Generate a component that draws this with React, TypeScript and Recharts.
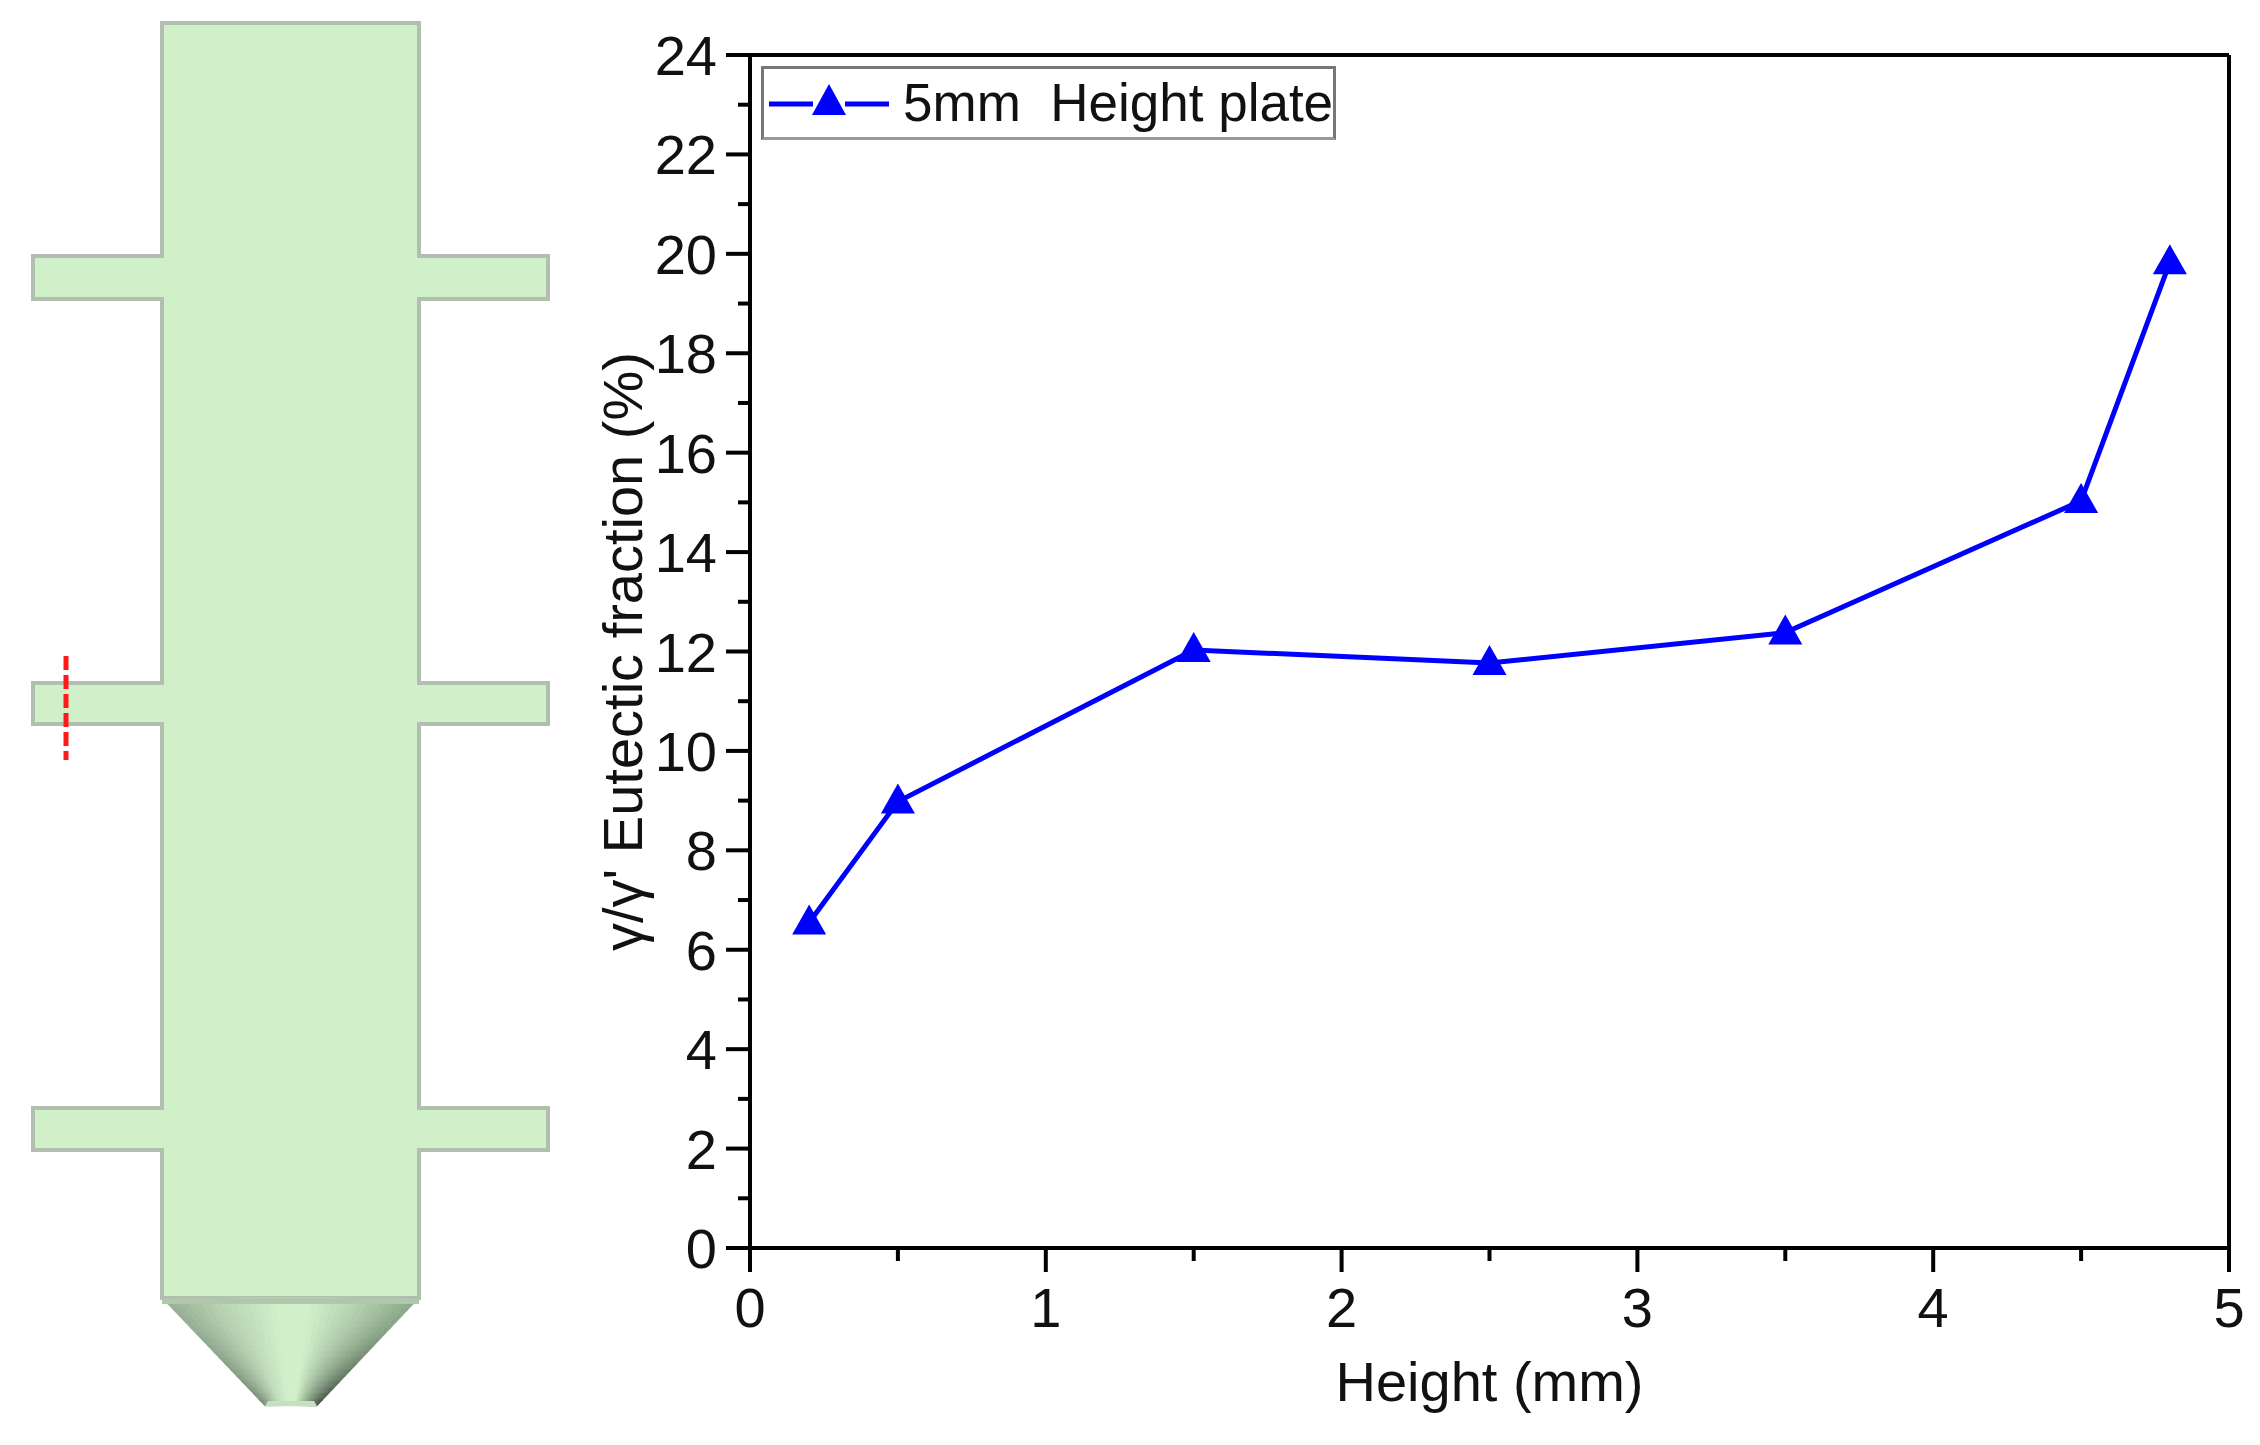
import React from "react";
import { ComposedChart, Line, XAxis, YAxis, Legend } from "recharts";

const heights = [0.2, 0.5, 1.5, 2.5, 3.5, 4.5, 4.8];
const eutectic = [6.55, 8.98, 12.03, 11.77, 12.38, 15.03, 19.83];
const xTicks = [0, 0.5, 1, 1.5, 2, 2.5, 3, 3.5, 4, 4.5, 5];
const yTicks = [0, 1, 2, 3, 4, 5, 6, 7, 8, 9, 10, 11, 12, 13, 14, 15, 16, 17, 18, 19, 20, 21, 22, 23, 24];
const seriesName = "5mm  Height plate";
const xTitle = "Height (mm)";
const yTitle = "γ/γ' Eutectic fraction (%)";

const rows = heights.map((h, i) => ({ h, v: eutectic[i] }));

const FONT = "'Liberation Sans', Arial, sans-serif";
const BLUE = "#0000ff";

const Triangle = (p: any) => {
  const { cx, cy } = p;
  if (cx == null || cy == null) return null;
  return <polygon key={`t${cx}`} points={`${cx},${cy - 18} ${cx + 17},${cy + 12} ${cx - 17},${cy + 12}`} fill={BLUE} />;
};

const XTick = (p: any) => {
  const { x, y, payload } = p;
  const major = Number.isInteger(payload.value);
  return (
    <g>
      <line x1={x} x2={x} y1={y} y2={y + (major ? 24 : 13)} stroke="#000" strokeWidth={4} />
      {major && (
        <text x={x} y={y + 79} textAnchor="middle" fontFamily={FONT} fontSize={56} fill="#111">
          {payload.value}
        </text>
      )}
    </g>
  );
};

const YTick = (p: any) => {
  const { x, y, payload } = p;
  const major = payload.value % 2 === 0;
  return (
    <g>
      <line x1={x} x2={x - (major ? 24 : 12)} y1={y} y2={y} stroke="#000" strokeWidth={4} />
      {major && (
        <text x={x - 33} y={y + 20} textAnchor="end" fontFamily={FONT} fontSize={56} fill="#111">
          {payload.value}
        </text>
      )}
    </g>
  );
};

const LegendBox = (p: any) => {
  const item = p.payload?.[0];
  return (
    <div style={{ width: 575, height: 74, boxSizing: "border-box", border: "3px solid #777", borderBottomColor: "#999", background: "#fff", position: "relative" }}>
      <svg width={130} height={60} style={{ position: "absolute", left: 5, top: 5 }}>
        <line x1={0} x2={120} y1={30} y2={30} stroke={BLUE} strokeWidth={5} />
        <rect x={44} y={8} width={32} height={40} fill="#fff" />
        <polygon points="60,10 77,41 43,41" fill={BLUE} />
      </svg>
      <span style={{ position: "absolute", left: 139, top: 4, fontFamily: FONT, fontSize: 53, lineHeight: "60px", color: "#111", whiteSpace: "pre" }}>
        {item?.value}
      </span>
    </div>
  );
};

const coneStops = [
  [0, [150, 175, 148]],
  [0.2, [182, 208, 176]],
  [0.45, [208, 240, 202]],
  [0.58, [208, 240, 202]],
  [0.8, [176, 204, 172]],
  [1, [140, 168, 138]],
] as const;

const coneColor = (t: number, v: number) => {
  let col: number[] = [140, 168, 138];
  for (let i = 1; i < coneStops.length; i++) {
    const [t0, c0] = coneStops[i - 1];
    const [t1, c1] = coneStops[i];
    if (t <= t1) {
      const f = (t - t0) / (t1 - t0);
      col = c0.map((c, k) => c + (c1[k] - c) * f);
      break;
    }
  }
  const dark = (t > 0.58 ? ((t - 0.58) / 0.42) * 0.55 : t < 0.3 ? ((0.3 - t) / 0.3) * 0.25 : 0) * v * v;
  return `rgb(${col.map((c) => Math.round(c * (1 - dark))).join(",")})`;
};

const coneCols = Array.from({ length: 36 }, (_, i) => i);
const coneRows = Array.from({ length: 18 }, (_, i) => i);

const Schematic = () => (
  <svg width={600} height={1445} style={{ position: "absolute", left: 0, top: 0 }}>
    <path
      d="M162 23 H419 V256 H548 V299 H419 V683 H548 V724 H419 V1108 H548 V1150 H419 V1298 H162 V1150 H33 V1108 H162 V724 H33 V683 H162 V299 H33 V256 H162 Z"
      fill="#d0f0ca"
      stroke="#b2bfb0"
      strokeWidth={4}
    />
    {coneRows.map((r) =>
      coneCols.map((i) => {
        const a = i / 36;
        const b = (i + 1) / 36;
        const v0 = r / 18;
        const v1 = (r + 1) / 18;
        const xAt = (t: number, v: number) => 162 + 103 * v + (257 - 205 * v) * t;
        const yAt = (v: number) => 1298 + 108 * v;
        const pts = [
          `${xAt(a, v0)},${yAt(v0)}`,
          `${xAt(b, v0)},${yAt(v0)}`,
          `${xAt(b, v1)},${yAt(v1)}`,
          `${xAt(a, v1)},${yAt(v1)}`,
        ].join(" ");
        const col = coneColor((a + b) / 2, (v0 + v1) / 2);
        return <polygon key={`${r}-${i}`} points={pts} fill={col} stroke={col} strokeWidth={0.6} />;
      })
    )}
    <polygon points="268,1401 314,1401 317,1406 265,1406" fill="#c4e0bf" />
    <rect x={162} y={1298} width={257} height={6} fill="#afc7ab" />
    <line x1={66} x2={66} y1={656} y2={760} stroke="#ff1a1a" strokeWidth={5} strokeDasharray="14 5" />
  </svg>
);

export default function App() {
  return (
    <div style={{ position: "absolute", left: 0, top: 0, width: 2260, height: 1445, background: "#fff", overflow: "hidden" }}>
      <Schematic />
      <div style={{ position: "absolute", left: 0, top: 0 }}>
        <ComposedChart width={2260} height={1445} data={rows} margin={{ left: 550, right: 30, top: 54, bottom: 47 }}>
          <XAxis
            dataKey="h"
            type="number"
            domain={[0, 5]}
            ticks={xTicks}
            interval={0}
            height={150}
            tickLine={false}
            tickSize={0}
            tickMargin={0}
            tick={<XTick />}
            axisLine={{ stroke: "#000", strokeWidth: 4 }}
            label={{ value: xTitle, position: "insideBottom", offset: -3, fontFamily: FONT, fontSize: 56, fill: "#111" }}
          />
          <XAxis xAxisId="top" orientation="top" type="number" domain={[0, 5]} height={1} tick={false} tickLine={false} axisLine={{ stroke: "#000", strokeWidth: 4 }} />
          <YAxis
            type="number"
            domain={[0, 24]}
            ticks={yTicks}
            interval={0}
            width={200}
            tickLine={false}
            tickSize={0}
            tickMargin={0}
            tick={<YTick />}
            axisLine={{ stroke: "#000", strokeWidth: 4 }}
            label={{ value: yTitle, angle: -90, position: "insideLeft", offset: 0, dx: 72, fontFamily: FONT, fontSize: 56, fill: "#111", style: { textAnchor: "middle" } }}
          />
          <YAxis yAxisId="right" orientation="right" type="number" domain={[0, 24]} width={1} tick={false} tickLine={false} axisLine={{ stroke: "#000", strokeWidth: 4 }} />
          <Legend content={<LegendBox />} verticalAlign="middle" layout="vertical" align="center" wrapperStyle={{ left: 761, top: 66, width: 575, height: 74 }} />
          <Line dataKey="v" name={seriesName} stroke={BLUE} strokeWidth={5} dot={<Triangle />} activeDot={false} isAnimationActive={false} legendType="triangle" />
        </ComposedChart>
      </div>
    </div>
  );
}
